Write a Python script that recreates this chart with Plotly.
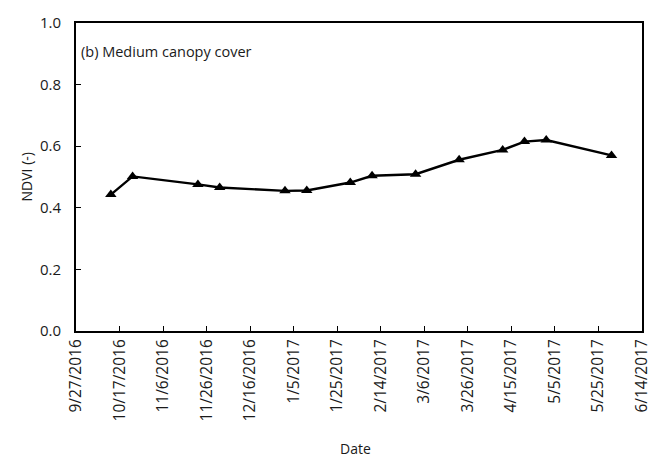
import plotly.graph_objects as go

# NDVI time series, medium canopy cover plot
dates = ["2016-10-13", "2016-10-23", "2016-11-22", "2016-12-02", "2017-01-01",
         "2017-01-11", "2017-01-31", "2017-02-10", "2017-03-02", "2017-03-22",
         "2017-04-11", "2017-04-21", "2017-05-01", "2017-05-31"]
ndvi = [0.443, 0.502, 0.476, 0.466, 0.455, 0.456, 0.482, 0.504, 0.509, 0.556,
        0.588, 0.615, 0.620, 0.570]

tick_dates = ["2016-09-27", "2016-10-17", "2016-11-06", "2016-11-26", "2016-12-16",
              "2017-01-05", "2017-01-25", "2017-02-14", "2017-03-06", "2017-03-26",
              "2017-04-15", "2017-05-05", "2017-05-25", "2017-06-14"]
tick_labels = ["9/27/2016", "10/17/2016", "11/6/2016", "11/26/2016", "12/16/2016",
               "1/5/2017", "1/25/2017", "2/14/2017", "3/6/2017", "3/26/2017",
               "4/15/2017", "5/5/2017", "5/25/2017", "6/14/2017"]
y_ticks = [0.0, 0.2, 0.4, 0.6, 0.8, 1.0]

FONT = "Open Sans"
TXT = "#1a1a1a"

fig = go.Figure()
fig.add_trace(go.Scatter(
    x=dates, y=ndvi, mode="lines+markers",
    line=dict(color="black", width=2.4),
    marker=dict(symbol="triangle-up", size=10, color="black"),
    showlegend=False,
))

fig.update_layout(
    width=664, height=465,
    margin=dict(l=76, r=17, t=15, b=134),
    paper_bgcolor="white", plot_bgcolor="white",
    font=dict(family=FONT, size=14, color=TXT),
    xaxis=dict(
        type="date", range=["2016-09-27", "2017-06-14"],
        tickmode="array", tickvals=tick_dates, ticktext=tick_labels,
        tickangle=-90, ticks="inside", ticklen=5, tickwidth=1.2, tickcolor="black",
        showline=True, linecolor="black", linewidth=2, mirror=True,
        showgrid=False, zeroline=False,
        tickfont=dict(family=FONT, size=15.5, color=TXT),
    ),
    yaxis=dict(
        range=[0, 1.0], tickmode="array", tickvals=y_ticks,
        ticktext=[f"{v:.1f}" for v in y_ticks],
        ticks="inside", ticklen=5, tickwidth=1.2, tickcolor="black",
        ticklabelstandoff=10,
        showline=True, linecolor="black", linewidth=2, mirror=True,
        showgrid=False, zeroline=False,
        tickfont=dict(family=FONT, size=15, color=TXT),
    ),
    annotations=[
        dict(text="(b) Medium canopy cover", xref="paper", yref="paper",
             x=0.0, y=(331 - 44) / 316, xanchor="left", yanchor="middle",
             xshift=3, showarrow=False, font=dict(family=FONT, size=14.5, color=TXT)),
        dict(text="NDVI (-)", xref="paper", yref="paper",
             x=(26 - 76) / 571, y=(331 - 173) / 316, textangle=-90,
             xanchor="center", yanchor="middle", showarrow=False,
             font=dict(family=FONT, size=14, color=TXT)),
        dict(text="Date", xref="paper", yref="paper",
             x=(358 - 76) / 571, y=(331 - 452) / 316,
             xanchor="center", yanchor="middle", showarrow=False,
             font=dict(family=FONT, size=14, color=TXT)),
    ],
)

fig.write_html("out.html")
